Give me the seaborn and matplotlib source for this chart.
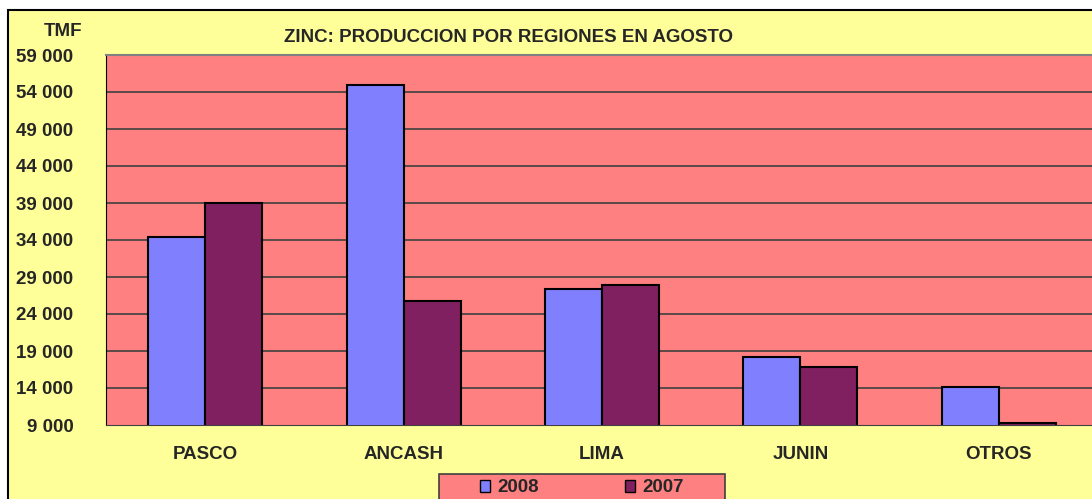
import pandas as pd
import seaborn as sns
import matplotlib.pyplot as plt
from matplotlib.patches import Rectangle

# Zinc production by region, August (TMF)
regions = ["PASCO", "ANCASH", "LIMA", "JUNIN", "OTROS"]
prod_2008 = [34400, 54900, 27400, 18150, 14100]
prod_2007 = [39000, 25800, 27900, 16800, 9300]
years = ["2008", "2007"]
y_ticks = list(range(9000, 59001, 5000))

FS = 13.5


def main():
    df = pd.DataFrame({
        "Region": regions * 2,
        "Year": [years[0]] * len(regions) + [years[1]] * len(regions),
        "TMF": prod_2008 + prod_2007,
    })

    sns.set_style("white")
    plt.rcParams["font.family"] = ["Liberation Sans", "DejaVu Sans"]
    plt.rcParams["font.weight"] = "bold"

    fig = plt.figure(figsize=(10.92, 4.99), dpi=100, facecolor="white")
    # yellow chart area with black frame (clipped on right/bottom)
    fig.patches.append(Rectangle((8 / 1092, -0.1), 1.2, 1.1 - 10 / 499,
                                 transform=fig.transFigure, facecolor="#FFFF99",
                                 edgecolor="black", linewidth=1.5, zorder=-10))

    ax = fig.add_axes([106 / 1092, 1 - 425 / 499, 992 / 1092, 370 / 499])
    ax.set_facecolor("#FF8080")

    sns.barplot(data=df, x="Region", y="TMF", hue="Year", order=regions,
                hue_order=years, palette=["#8080FF", "#802060"], width=0.575,
                edgecolor="black", linewidth=1.5, saturation=1, ax=ax,
                zorder=3)

    ax.set_ylim(9000, 59000)
    ax.set_xlim(-0.5, 4.5)
    ax.set_yticks(y_ticks)
    ax.set_yticklabels([f"{v:,}".replace(",", " ") for v in y_ticks],
                       fontsize=FS, fontweight="bold")
    ax.tick_params(axis="y", direction="out", length=6, width=1,
                   color="#404040", pad=17.5)
    for v in y_ticks[1:-1]:
        ax.axhline(v, color="#404040", linewidth=1.2, zorder=1)

    # ticks at category boundaries, labels at category centers
    ax.set_xticks([0.5, 1.5, 2.5, 3.5])
    ax.set_xticklabels([])
    ax.set_xticks(range(len(regions)), minor=True)
    ax.set_xticklabels(regions, minor=True, fontsize=FS, fontweight="bold")
    ax.tick_params(axis="x", which="major", direction="out", length=6,
                   width=1, color="#404040")
    ax.tick_params(axis="x", which="minor", length=0, pad=15)

    ax.set_xlabel("")
    ax.set_ylabel("")
    ax.spines["left"].set_color("black")
    ax.spines["bottom"].set_color("#404040")
    ax.spines["top"].set_color("#808080")
    ax.spines["top"].set_linewidth(1.5)

    fig.text(63 / 1092, 1 - 32 / 499, "TMF", ha="center", va="center",
             fontsize=FS, fontweight="bold")
    fig.text(508 / 1092, 1 - 38 / 499, "ZINC: PRODUCCION POR REGIONES EN AGOSTO",
             ha="center", va="center", fontsize=FS, fontweight="bold")

    # legend box (runs off the bottom edge)
    fig.patches.append(Rectangle((439 / 1092, -0.05), 286 / 1092,
                                 0.05 + 1 - 474 / 499,
                                 transform=fig.transFigure, facecolor="#FF8080",
                                 edgecolor="#404040", linewidth=1.2, zorder=-5))
    ax.legend_.remove()
    handles = [Rectangle((0, 0), 1, 1, facecolor=c, edgecolor="black")
               for c in ["#8080FF", "#802060"]]
    fig.legend(handles, years, loc="center left",
               bbox_to_anchor=(480 / 1092, 1 - 488 / 499), ncol=2,
               frameon=False, prop={"weight": "bold", "size": FS},
               handlelength=0.55, handleheight=0.55, handletextpad=0.37,
               columnspacing=4.6, borderpad=0, borderaxespad=0)

    fig.savefig("out.png", dpi=100)


if __name__ == "__main__":
    main()
